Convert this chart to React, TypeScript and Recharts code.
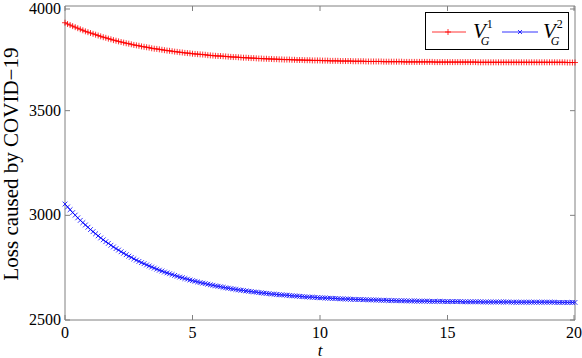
import React from 'react';
import { LineChart, Line, XAxis, YAxis } from 'recharts';

// sampling step of the time grid (t = 0 .. 20)
const T_STEP = 0.1;

// V_G^1
const V1 = [
  3920, 3914, 3909, 3904, 3899, 3894, 3889, 3884, 3879, 3875,
  3871, 3867, 3863, 3859, 3855, 3851, 3848, 3844, 3841, 3837,
  3834, 3831, 3828, 3825, 3822, 3820, 3817, 3814, 3812, 3810,
  3807, 3805, 3803, 3801, 3798, 3796, 3795, 3793, 3791, 3789,
  3787, 3786, 3784, 3782, 3781, 3779, 3778, 3776, 3775, 3774,
  3772, 3771, 3770, 3769, 3768, 3767, 3765, 3764, 3763, 3762,
  3761, 3761, 3760, 3759, 3758, 3757, 3756, 3756, 3755, 3754,
  3753, 3753, 3752, 3751, 3751, 3750, 3749, 3749, 3748, 3748,
  3747, 3747, 3746, 3746, 3745, 3745, 3744, 3744, 3744, 3743,
  3743, 3742, 3742, 3742, 3741, 3741, 3741, 3740, 3740, 3740,
  3740, 3739, 3739, 3739, 3738, 3738, 3738, 3738, 3737, 3737,
  3737, 3737, 3737, 3736, 3736, 3736, 3736, 3736, 3735, 3735,
  3735, 3735, 3735, 3735, 3735, 3734, 3734, 3734, 3734, 3734,
  3734, 3734, 3734, 3733, 3733, 3733, 3733, 3733, 3733, 3733,
  3733, 3733, 3733, 3733, 3733, 3732, 3732, 3732, 3732, 3732,
  3732, 3732, 3732, 3732, 3732, 3732, 3732, 3732, 3732, 3732,
  3732, 3732, 3731, 3731, 3731, 3731, 3731, 3731, 3731, 3731,
  3731, 3731, 3731, 3731, 3731, 3731, 3731, 3731, 3731, 3731,
  3731, 3731, 3731, 3731, 3731, 3731, 3731, 3731, 3731, 3731,
  3731, 3731, 3731, 3731, 3731, 3731, 3731, 3730, 3730, 3730,
  3730,
];

// V_G^2
const V2 = [
  3054, 3040, 3027, 3013, 3001, 2988, 2976, 2965, 2954, 2943,
  2932, 2922, 2912, 2902, 2892, 2883, 2874, 2866, 2857, 2849,
  2841, 2834, 2826, 2819, 2812, 2805, 2799, 2792, 2786, 2780,
  2774, 2769, 2763, 2758, 2753, 2748, 2743, 2738, 2734, 2729,
  2725, 2721, 2717, 2713, 2709, 2705, 2702, 2698, 2695, 2691,
  2688, 2685, 2682, 2679, 2676, 2674, 2671, 2668, 2666, 2663,
  2661, 2659, 2656, 2654, 2652, 2650, 2648, 2646, 2644, 2642,
  2641, 2639, 2637, 2636, 2634, 2633, 2631, 2630, 2628, 2627,
  2626, 2624, 2623, 2622, 2621, 2620, 2619, 2618, 2617, 2616,
  2615, 2614, 2613, 2612, 2611, 2610, 2609, 2609, 2608, 2607,
  2606, 2606, 2605, 2604, 2604, 2603, 2603, 2602, 2601, 2601,
  2600, 2600, 2599, 2599, 2598, 2598, 2598, 2597, 2597, 2596,
  2596, 2596, 2595, 2595, 2594, 2594, 2594, 2593, 2593, 2593,
  2592, 2592, 2592, 2592, 2591, 2591, 2591, 2591, 2590, 2590,
  2590, 2590, 2590, 2589, 2589, 2589, 2589, 2589, 2589, 2588,
  2588, 2588, 2588, 2588, 2588, 2588, 2587, 2587, 2587, 2587,
  2587, 2587, 2587, 2587, 2586, 2586, 2586, 2586, 2586, 2586,
  2586, 2586, 2586, 2586, 2586, 2585, 2585, 2585, 2585, 2585,
  2585, 2585, 2585, 2585, 2585, 2585, 2585, 2585, 2585, 2585,
  2585, 2585, 2585, 2584, 2584, 2584, 2584, 2584, 2584, 2584,
  2584,
];

const X_TICKS = [0, 5, 10, 15, 20];
const Y_TICKS = [2500, 3000, 3500, 4000];
const X_LABEL = 't';
const Y_LABEL = 'Loss caused by COVID\u221219';

const FONT = "'Liberation Serif', 'Times New Roman', Times, 'DejaVu Serif', serif";
const FRAME = '#808080';
const RED = '#ff0000';
const BLUE = '#0000ff';

const data = V1.map((v, i) => ({ t: Math.round(i * T_STEP * 10) / 10, v1: v, v2: V2[i] }));

const LeftTick = (p: any) => (
  <g>
    <line x1={p.x} x2={p.x + 5} y1={p.y} y2={p.y} stroke={FRAME} />
    <text x={p.x - 4} y={p.y} dy={5} textAnchor="end" fontSize={16} fontFamily={FONT} fill="#000">
      {p.payload.value}
    </text>
  </g>
);

const BottomTick = (p: any) => (
  <g>
    <line x1={p.x} x2={p.x} y1={p.y} y2={p.y - 5} stroke={FRAME} />
    <text x={p.x} y={p.y} dy={18} textAnchor="middle" fontSize={16} fontFamily={FONT} fill="#000">
      {p.payload.value}
    </text>
  </g>
);

const TopTick = (p: any) => <line x1={p.x} x2={p.x} y1={p.y} y2={p.y + 5} stroke={FRAME} />;
const RightTick = (p: any) => <line x1={p.x - 5} x2={p.x} y1={p.y} y2={p.y} stroke={FRAME} />;

const plusDot = (p: any) => {
  if (p.cx == null || p.cy == null) return <g key={p.index} />;
  const s = 3;
  return (
    <path key={p.index} d={`M${p.cx - s},${p.cy}H${p.cx + s}M${p.cx},${p.cy - s}V${p.cy + s}`}
      stroke={RED} strokeWidth={0.8} fill="none" />
  );
};

const crossDot = (p: any) => {
  if (p.cx == null || p.cy == null) return <g key={p.index} />;
  const s = 2.4;
  return (
    <path key={p.index}
      d={`M${p.cx - s},${p.cy - s}L${p.cx + s},${p.cy + s}M${p.cx - s},${p.cy + s}L${p.cx + s},${p.cy - s}`}
      stroke={BLUE} strokeWidth={0.8} fill="none" />
  );
};

// V with a superscript index and a subscript G, kept as one text element
const VLabel = ({ x, sup }: { x: number; sup: string }) => (
  <text x={x} y={27} fontSize={21} fontFamily={FONT} fill="#000">
    <tspan fontStyle="italic">V</tspan>
    <tspan fontSize={12} dx={1} dy={-10}>{sup}</tspan>
    <tspan fontSize={12} fontStyle="italic" dx={-12} dy={17}>G</tspan>
  </text>
);

function Legend() {
  return (
    <svg width={146} height={40} style={{ position: 'absolute', left: 424, top: 11 }}>
      <rect x={1.5} y={1.5} width={143} height={37} fill="#fff" stroke="#000" strokeWidth={1} />
      <line x1={8} x2={42} y1={21} y2={21} stroke={RED} strokeWidth={0.8} />
      <path d="M24,18V24M21,21H27" stroke={RED} strokeWidth={0.8} />
      <VLabel x={49} sup="1" />
      <line x1={78} x2={114} y1={21} y2={21} stroke={BLUE} strokeWidth={0.8} />
      <path d="M94,19L98,23M94,23L98,19" stroke={BLUE} strokeWidth={0.8} />
      <VLabel x={119} sup="2" />
    </svg>
  );
}

export default function App() {
  return (
    <div style={{ position: 'absolute', left: 0, top: 0, width: 582, height: 358, background: '#fff' }}>
      <LineChart width={582} height={358} data={data} margin={{ top: 0, right: 0, bottom: 0, left: 0 }}>
        <XAxis dataKey="t" type="number" domain={[0, 20]} ticks={X_TICKS} height={38}
          axisLine={{ stroke: FRAME }} tickLine={false} tickSize={0} tickMargin={0} tick={BottomTick} />
        <XAxis xAxisId="top" orientation="top" dataKey="t" type="number" domain={[0, 20]} ticks={X_TICKS} height={6}
          axisLine={{ stroke: FRAME }} tickLine={false} tickSize={0} tickMargin={0} tick={TopTick} />
        <YAxis type="number" domain={[2500, 4000]} ticks={Y_TICKS} width={65} allowDataOverflow
          axisLine={{ stroke: FRAME }} tickLine={false} tickSize={0} tickMargin={0} tick={LeftTick} />
        <YAxis yAxisId="right" orientation="right" type="number" domain={[2500, 4000]} ticks={Y_TICKS} width={7}
          allowDataOverflow axisLine={{ stroke: FRAME }} tickLine={false} tickSize={0} tickMargin={0} tick={RightTick} />
        <Line dataKey="v1" stroke={RED} strokeWidth={0.8} dot={plusDot} isAnimationActive={false} />
        <Line dataKey="v2" stroke={BLUE} strokeWidth={0.8} dot={crossDot} isAnimationActive={false} />
        <Line xAxisId="top" yAxisId="right" dataKey="v1" stroke="none" dot={false} isAnimationActive={false} />
      </LineChart>
      <Legend />
      <div style={{
        position: 'absolute', left: 11, top: 164, transform: 'translate(-50%, -50%) rotate(-90deg)',
        whiteSpace: 'nowrap', fontFamily: FONT, fontSize: 21,
      }}>
        {Y_LABEL}
      </div>
      <div style={{
        position: 'absolute', left: 320, top: 350, transform: 'translate(-50%, -50%)',
        fontFamily: FONT, fontSize: 17, fontStyle: 'italic', lineHeight: 1,
      }}>
        {X_LABEL}
      </div>
    </div>
  );
}
